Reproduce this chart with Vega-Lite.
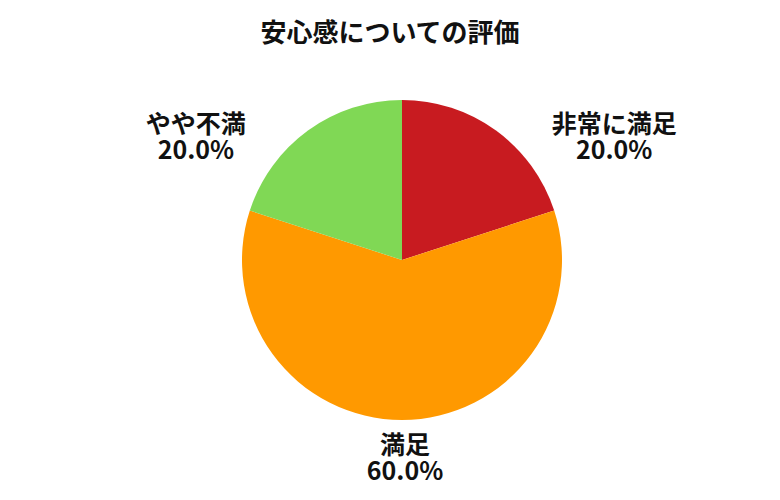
{
  "$schema": "https://vega.github.io/schema/vega-lite/v6.json",
  "width": 780,
  "height": 500,
  "autosize": {"type": "fit", "contains": "padding"},
  "padding": {"top": 20, "left": 24, "right": 0, "bottom": 0},
  "background": "white",
  "title": {
    "text": "安心感についての評価",
    "font": "Noto Sans CJK JP",
    "fontSize": 26,
    "fontWeight": "bold",
    "color": "#111111",
    "offset": -27,
    "dx": -12
  },
  "data": {
    "values": [
      {"category": "非常に満足", "value": 20, "rank": 1},
      {"category": "満足", "value": 60, "rank": 2},
      {"category": "やや不満", "value": 20, "rank": 3}
    ]
  },
  "transform": [
    {"calculate": "[datum.category, format(datum.value / 100, '.1%')]", "as": "label"}
  ],
  "layer": [
    {
      "mark": {"type": "arc", "outerRadius": 160},
      "encoding": {
        "theta": {"field": "value", "type": "quantitative", "stack": true},
        "order": {"field": "rank", "type": "quantitative"},
        "color": {
          "field": "category",
          "type": "nominal",
          "scale": {
            "domain": ["非常に満足", "満足", "やや不満"],
            "range": ["#C81B20", "#FF9900", "#80D855"]
          },
          "legend": null
        }
      }
    },
    {
      "mark": {
        "type": "text",
        "font": "Noto Sans CJK JP",
        "fontSize": 25,
        "fontWeight": "bold",
        "lineHeight": 26,
        "color": "#111111",
        "align": "center",
        "baseline": "middle",
        "dx": 3,
        "dy": -9
      },
      "encoding": {
        "theta": {
          "field": "value",
          "type": "quantitative",
          "stack": true,
          "scale": {"range": [0.5018, 5.7814]}
        },
        "radius": {
          "field": "value",
          "type": "quantitative",
          "scale": {"type": "linear", "zero": false, "domain": [20, 60], "range": [244, 195]}
        },
        "order": {"field": "rank", "type": "quantitative"},
        "text": {"field": "label"}
      }
    }
  ],
  "resolve": {"scale": {"theta": "independent", "radius": "independent"}},
  "config": {"view": {"stroke": null}}
}
